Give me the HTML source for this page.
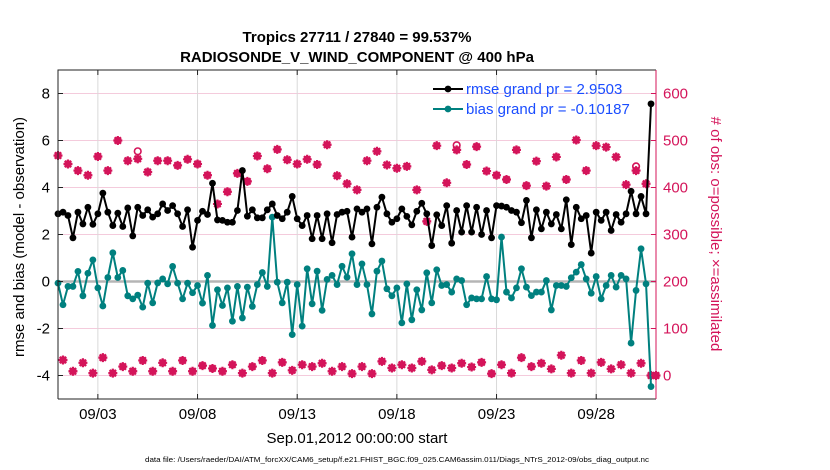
<!DOCTYPE html>
<html><head><meta charset="utf-8"><style>
html,body{margin:0;padding:0;background:#fff;}
svg{display:block;font-family:"Liberation Sans",Arial,sans-serif;}
</style></head><body>
<svg id="chart" width="830" height="470" viewBox="0 0 830 470">
<text x="357" y="42" text-anchor="middle" font-weight="bold" font-size="15">Tropics 27711 / 27840 = 99.537%</text>
<text x="357" y="62" text-anchor="middle" font-weight="bold" font-size="15">RADIOSONDE_V_WIND_COMPONENT @ 400 hPa</text>
<g id="grid"></g>
<g id="marks"></g>
<g id="axes"></g>
<text transform="translate(24,237) rotate(-90)" text-anchor="middle" font-size="15">rmse and bias (model - observation)</text>
<text transform="translate(711,234) rotate(90)" text-anchor="middle" font-size="15" fill="#d4145a"># of obs: o=possible; ×=assimilated</text>
<text x="357" y="443" text-anchor="middle" font-size="15">Sep.01,2012 00:00:00 start</text>
<text x="397" y="462" text-anchor="middle" font-size="7.5" textLength="504" lengthAdjust="spacingAndGlyphs">data file: /Users/raeder/DAI/ATM_forcXX/CAM6_setup/f.e21.FHIST_BGC.f09_025.CAM6assim.011/Diags_NTrS_2012-09/obs_diag_output.nc</text>
<g id="legend"></g>
</svg>
<script>
const rmse=[2.88,2.95,2.81,1.86,2.95,2.45,3.16,2.43,2.88,3.76,2.95,2.38,2.91,2.34,3.13,1.94,3.16,2.81,3.05,2.74,2.88,3.30,3.02,3.23,2.88,2.34,3.05,1.46,2.60,2.99,2.85,4.18,
2.62,2.60,2.52,2.52,3.02,4.72,2.78,3.05,2.71,2.71,3.05,3.30,2.81,2.67,2.95,3.62,2.67,2.38,2.81,1.82,2.81,1.82,2.88,1.65,2.85,2.95,2.99,1.89,3.09,2.95,
3.09,1.60,3.16,3.59,2.88,2.52,2.67,3.09,2.77,2.41,2.99,3.33,2.88,1.53,2.84,2.38,3.23,1.63,3.02,2.10,3.23,2.10,3.16,2.00,3.02,1.86,3.23,3.21,3.16,3.02,
2.95,2.50,3.45,1.86,3.05,2.24,2.95,2.45,2.85,2.24,3.48,1.57,3.16,2.67,2.81,1.21,2.95,2.60,2.95,2.17,2.85,2.52,2.88,3.84,2.88,3.62,2.88,7.56];
const bias=[-0.07,-0.99,-0.21,-0.21,0.43,-0.61,0.35,0.92,-0.27,-1.04,0.17,1.22,0.17,0.47,-0.61,-0.74,-0.58,-1.09,-0.07,-0.91,-0.06,0.11,-0.10,0.64,-0.07,-0.74,-0.07,-0.48,-0.17,-0.92,0.26,-1.87,
-0.35,-1.02,-0.27,-1.69,-0.21,-1.55,-0.24,-1.06,-0.13,0.38,-0.21,2.74,-0.03,-0.91,-0.03,-2.26,-0.13,-1.90,0.54,-0.95,0.44,-1.23,0.09,0.26,-0.13,0.65,0.18,1.18,-0.13,0.75,
-0.13,-1.38,0.44,0.87,-0.31,-0.61,-0.27,-1.76,-0.10,-1.63,-0.35,-1.21,0.37,-0.91,0.50,-0.17,-0.13,-0.45,0.11,0.04,-0.99,-0.70,-0.74,-0.74,0.21,-0.74,-0.78,1.89,-0.45,-0.70,
-0.27,0.54,-0.24,-0.60,-0.45,-0.45,0.04,-1.21,-0.17,-0.17,-0.21,0.16,0.40,0.72,0.11,-0.50,0.21,-0.74,-0.17,0.26,-0.24,0.26,0.11,-2.62,-0.38,1.39,-0.10,-4.47];
const nAssim=[468,33,450,9,436,27,426,5,466,38,436,5,500,19,457,9,461,32,433,9,
457,27,457,9,447,32,460,9,450,21,426,15,365,9,391,23,430,5,413,19,
467,32,440,5,481,28,459,11,450,23,460,19,449,26,491,9,425,19,408,4,
395,19,457,4,477,30,448,16,441,23,445,16,395,30,328,12,489,21,410,16,
480,26,449,18,487,28,435,4,426,23,417,5,480,38,404,19,456,26,403,14,
465,43,417,5,501,32,436,5,489,28,486,14,465,23,406,5,436,26,408,0,0];
const nPoss=[468,33,450,9,436,27,426,5,466,38,436,5,500,19,457,9,477,32,433,9,
457,27,457,9,447,32,460,9,450,21,426,15,365,9,391,23,430,5,413,19,
467,32,440,5,481,28,459,11,450,23,460,19,449,26,491,9,425,19,408,4,
395,19,457,4,477,30,448,16,441,23,445,16,395,30,328,12,489,21,410,16,
490,26,449,18,487,28,435,4,426,23,417,5,480,38,404,19,456,26,403,14,
465,43,417,5,501,32,436,5,489,28,486,14,465,23,406,5,445,26,408,0,0];
const xTickDays=[2,7,12,17,22,27];
const xTickLabels=["09/03","09/08","09/13","09/18","09/23","09/28"];
const yTicksLeft=[-4,-2,0,2,4,6,8];
const yTicksRight=[0,100,200,300,400,500,600];
const legendLabels=["rmse grand pr = 2.9503","bias grand pr = -0.10187"];

const L=58,R=656,T=70,B=399;
const PINK="#d4145a",TEAL="#00807f";
const xs=d=>L+(d/30)*(R-L);
const yl=v=>T+(9-v)/14*(B-T);
const yr=c=>yl(c/50-4);
const NS="http://www.w3.org/2000/svg";
function mk(tag,attrs,parent){const e=document.createElementNS(NS,tag);for(const k in attrs)e.setAttribute(k,attrs[k]);parent.appendChild(e);return e;}
const grid=document.getElementById('grid'),marks=document.getElementById('marks'),axes=document.getElementById('axes'),leg=document.getElementById('legend');

yTicksRight.forEach(c=>{const g=mk('line',{x1:L,x2:R,y1:yr(c),y2:yr(c),stroke:'#f4cbdc','stroke-width':1},grid);

});
xTickDays.forEach(d=>{const g=mk('line',{x1:xs(d),x2:xs(d),y1:T,y2:B,stroke:'#d9d9d9','stroke-width':1},grid);

});
const z=mk('line',{x1:L,x2:R,y1:yl(0),y2:yl(0),stroke:'#b5b5b5','stroke-width':2.5},grid);



function obsMarker(i,c,circleOnly){
  const x=xs(i/4),y=yr(c);
  const g=mk('g',{},marks);
  
  
  if(circleOnly){
    mk('circle',{cx:x,cy:y,r:3.3,fill:'none',stroke:PINK,'stroke-width':1.6},g);
  } else {
    mk('circle',{cx:x,cy:y,r:3.0,fill:'none',stroke:PINK,'stroke-width':1.4},g);
    mk('path',{d:`M${x-4.5} ${y}H${x+4.5}M${x} ${y-4.5}V${y+4.5}M${x-3.2} ${y-3.2}L${x+3.2} ${y+3.2}M${x-3.2} ${y+3.2}L${x+3.2} ${y-3.2}`,stroke:PINK,'stroke-width':2.2},g);
    mk('circle',{cx:x,cy:y,r:3.2,fill:PINK},g);
  }
}
nPoss.forEach((c,i)=>{if(c!==nAssim[i])obsMarker(i,c,true);});
nAssim.forEach((c,i)=>obsMarker(i,c,false));

function series(arr,color,name){
  const pts=arr.map((v,i)=>xs(i/4).toFixed(2)+','+yl(v).toFixed(2)).join(' ');
  const p=mk('polyline',{points:pts,fill:'none',stroke:color,'stroke-width':2,'stroke-linejoin':'round'},marks);
  
  
  arr.forEach((v,i)=>{const c=mk('circle',{cx:xs(i/4),cy:yl(v),r:3.4,fill:color},marks);
  
  });
}
series(bias,TEAL,'bias');
series(rmse,'#000','rmse');

const f1=mk('path',{d:`M${L} ${B}V${T}H${R}M${L} ${B}H${R}`,fill:'none',stroke:'#222','stroke-width':1},axes);


const f2=mk('line',{x1:R,x2:R,y1:T,y2:B,stroke:PINK,'stroke-width':1},axes);


yTicksLeft.forEach(v=>{const y=yl(v);
 mk('line',{x1:L,x2:L+5,y1:y,y2:y,stroke:'#222'},axes);
 const t=mk('text',{x:L-8,y:y+5,'text-anchor':'end','font-size':15},axes);t.textContent=v;
 
 });
yTicksRight.forEach(c=>{const y=yr(c);
 mk('line',{x1:R,x2:R-5,y1:y,y2:y,stroke:PINK},axes);
 const t=mk('text',{x:R+7,y:y+5,'font-size':15,fill:PINK},axes);t.textContent=c;
 
 });
xTickDays.forEach((d,k)=>{const x=xs(d);
 mk('line',{x1:x,x2:x,y1:B,y2:B-5,stroke:'#222'},axes);
 mk('line',{x1:x,x2:x,y1:T,y2:T+5,stroke:'#222'},axes);
 const t=mk('text',{x:x,y:419,'text-anchor':'middle','font-size':15},axes);t.textContent=xTickLabels[k];
 
 });

[['#000',89],[TEAL,109]].forEach((s,k)=>{
 const g=mk('g',{},leg);
 
 
 mk('line',{x1:433,x2:463,y1:s[1],y2:s[1],stroke:s[0],'stroke-width':2},g);
 mk('circle',{cx:448,cy:s[1],r:3.4,fill:s[0]},g);
 const t=mk('text',{x:466,y:s[1]+5,'font-size':15,fill:'#1a4dff'},g);t.textContent=legendLabels[k];
});
</script>
</body></html>
